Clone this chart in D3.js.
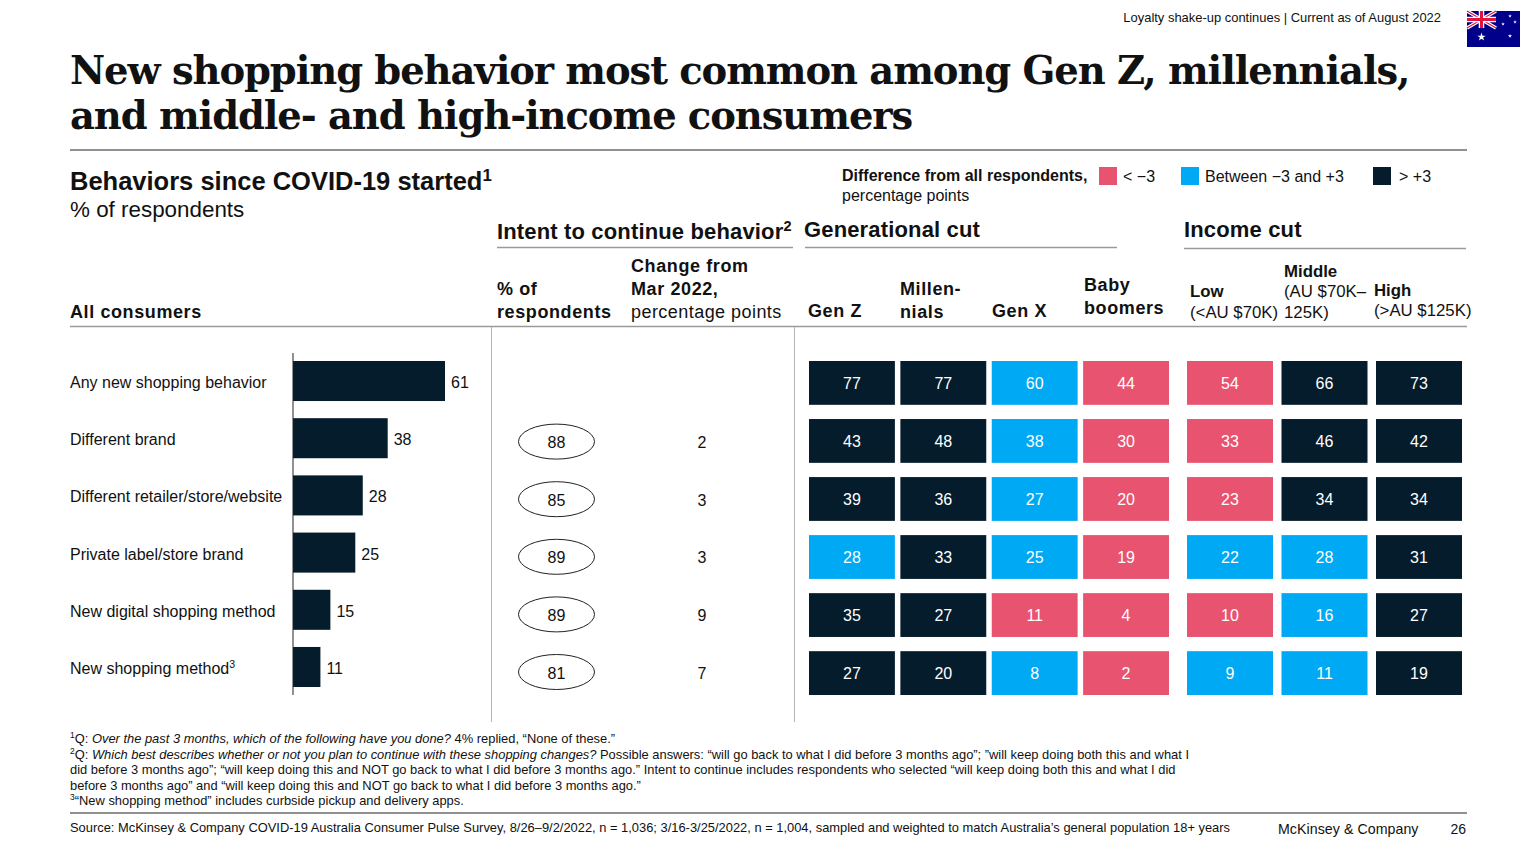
<!DOCTYPE html>
<html>
<head>
<meta charset="utf-8">
<script src="https://cdn.jsdelivr.net/npm/d3@7"></script>
<style>
  html, body { margin: 0; background: #fff; }
  svg { display: block; }
  text { font-family: "Liberation Sans", Arial, sans-serif; fill: #111; }
</style>
</head>
<body>
<div id="chart-area"></div>
<script>
// DATA
const behaviors = ['Any new shopping behavior', 'Different brand', 'Different retailer/store/website',
  'Private label/store brand', 'New digital shopping method', 'New shopping method^3^'];
const allConsumers = [61, 38, 28, 25, 15, 11];
const intentPct = [null, 88, 85, 89, 89, 81];
const intentChange = [null, 2, 3, 3, 9, 7];

const genCols = ['Gen Z', 'Millennials', 'Gen X', 'Baby boomers'];
const incomeCols = ['Low', 'Middle', 'High'];
const genZ = [77, 43, 39, 28, 35, 27];
const millennials = [77, 48, 36, 33, 27, 20];
const genX = [60, 38, 27, 25, 11, 8];
const boomers = [44, 30, 20, 19, 4, 2];
const incomeLow = [54, 33, 23, 22, 10, 9];
const incomeMid = [66, 46, 34, 28, 16, 11];
const incomeHigh = [73, 42, 34, 31, 27, 19];
const genValues = [genZ, millennials, genX, boomers];
const incomeValues = [incomeLow, incomeMid, incomeHigh];

// difference category per cell: l = below -3, m = between, h = above +3
const genBands = [['h','h','h','m','h','h'], ['h','h','h','h','h','h'], ['m','m','m','m','l','m'], ['l','l','l','l','l','l']];
const incomeBands = [['l','l','l','m','l','m'], ['h','h','h','m','m','m'], ['h','h','h','h','h','h']];
const legendLabels = ['< \u22123', 'Between \u22123 and +3', '> +3'];

const footnotes = [
  '^1^Q: *Over the past 3 months, which of the following have you done?* 4% replied, \u201CNone of these.\u201D',
  '^2^Q: *Which best describes whether or not you plan to continue with these shopping changes?* Possible answers: \u201Cwill go back to what I did before 3 months ago\u201D; \u201Dwill keep doing both this and what I',
  'did before 3 months ago\u201D; \u201Cwill keep doing this and NOT go back to what I did before 3 months ago.\u201D Intent to continue includes respondents who selected \u201Cwill keep doing both this and what I did',
  'before 3 months ago\u201D and \u201Cwill keep doing this and NOT go back to what I did before 3 months ago.\u201D',
  '^3^\u201CNew shopping method\u201D includes curbside pickup and delivery apps.'
];
const sourceLine = 'Source: McKinsey & Company COVID-19 Australia Consumer Pulse Survey, 8/26\u20139/2/2022, n = 1,036; 3/16-3/25/2022, n = 1,004, sampled and weighted to match Australia\u2019s general population 18+ years';

const navy = '#051c2c', cyan = '#00a9f4', pink = '#e8536f', rule = '#9a9a9a';
const bandColor = d3.scaleOrdinal().domain(['l', 'm', 'h']).range([pink, cyan, navy]);

const svg = d3.select('#chart-area').append('svg')
  .attr('width', 1536)
  .attr('height', 864);

// writes a string with ^sup^ and *italic* markup as tspans
function rich(x, y, str, size, attrs) {
  const t = svg.append('text').attr('x', x).attr('y', y).attr('font-size', size);
  Object.entries(attrs || {}).forEach(([k, v]) => t.attr(k, v));
  let lift = 0;
  str.split(/(\^[^^]*\^|\*[^*]*\*)/).filter(s => s).forEach(part => {
    const s = t.append('tspan');
    if (part[0] === '^') {
      s.text(part.slice(1, -1)).attr('font-size', size * 0.66).attr('dy', -size * 0.36);
      lift = size * 0.36;
    } else {
      if (lift) { s.attr('dy', lift); lift = 0; }
      if (part[0] === '*') s.text(part.slice(1, -1)).attr('font-style', 'italic');
      else s.text(part);
    }
  });
  return t;
}

function hline(x1, x2, y, color, w) {
  svg.append('line').attr('x1', x1).attr('x2', x2).attr('y1', y).attr('y2', y)
    .attr('stroke', color).attr('stroke-width', w);
}
function vline(x, y1, y2, color, w) {
  svg.append('line').attr('x1', x).attr('x2', x).attr('y1', y1).attr('y2', y2)
    .attr('stroke', color).attr('stroke-width', w);
}

// TOP STRIP & TITLE
rich(1441, 22, 'Loyalty shake-up continues | Current as of August 2022', 12.95, { 'text-anchor': 'end' });

const flag = svg.append('g').attr('transform', 'translate(1467,11)');
flag.append('rect').attr('width', 53).attr('height', 36).attr('fill', '#00008b');
flag.append('path').attr('d', 'M0,0L29,17M29,0L0,17').attr('stroke', '#fff').attr('stroke-width', 3.5);
flag.append('path').attr('d', 'M0,0L29,17M29,0L0,17').attr('stroke', '#e0143c').attr('stroke-width', 1.2);
flag.append('path').attr('d', 'M14.5,0V17M0,8.5H29').attr('stroke', '#fff').attr('stroke-width', 5.5);
flag.append('path').attr('d', 'M14.5,0V17M0,8.5H29').attr('stroke', '#e0143c').attr('stroke-width', 3);
flag.selectAll('path.star')
  .data([[14.5, 26, 22], [43, 5, 4], [36, 13, 4], [48, 11, 4], [43, 25, 5]])
  .join('path').attr('class', 'star')
  .attr('transform', d => `translate(${d[0]},${d[1]})`)
  .attr('d', d => d3.symbol(d3.symbolStar, d[2])())
  .attr('fill', '#fff');

const titleFont = { 'font-weight': 'bold', 'style': 'font-family:"DejaVu Serif",serif', 'letter-spacing': '-1.08' };
rich(70, 84, 'New shopping behavior most common among Gen Z, millennials,', 38.5, titleFont);
rich(70, 129, 'and middle- and high-income consumers', 38.5, titleFont);
hline(70, 1467, 150, '#222', 1);

// SUBTITLE & LEGEND
rich(70, 190, 'Behaviors since COVID-19 started^1^', 25.5, { 'font-weight': 'bold' });
rich(70, 217, '% of respondents', 22.4);

rich(842, 181, 'Difference from all respondents,', 16, { 'font-weight': 'bold' });
rich(842, 201, 'percentage points', 16);
const legendX = [1099, 1181, 1373];
const legendGap = [24, 24, 26];
['l', 'm', 'h'].forEach((k, i) => {
  svg.append('rect').attr('x', legendX[i]).attr('y', 167).attr('width', 18).attr('height', 18).attr('fill', bandColor(k));
  rich(legendX[i] + legendGap[i], 182, legendLabels[i], 16);
});

// COLUMN HEADERS
const headBold = { 'font-weight': 'bold', 'letter-spacing': '0.6' };
const sectionBold = { 'font-weight': 'bold', 'letter-spacing': '0.15' };
rich(497, 239, 'Intent to continue behavior^2^', 22, sectionBold);
rich(804, 237, 'Generational cut', 22, sectionBold);
rich(1184, 237, 'Income cut', 22, sectionBold);
hline(497, 793, 247.5, rule, 1.5);
hline(805, 1117, 247.5, rule, 1.5);
hline(1184, 1466, 248.5, rule, 1.5);

rich(70, 318, 'All consumers', 18, headBold);
rich(497, 295, '% of', 18, headBold);
rich(497, 318, 'respondents', 18, headBold);
rich(631, 272, 'Change from', 18, headBold);
rich(631, 295, 'Mar 2022,', 18, headBold);
rich(631, 318, 'percentage points', 18, { 'letter-spacing': '0.45' });

rich(808, 317, 'Gen Z', 18, headBold);
rich(900, 295, 'Millen-', 18, headBold);
rich(900, 318, 'nials', 18, headBold);
rich(992, 317, 'Gen X', 18, headBold);
rich(1084, 291, 'Baby', 18, headBold);
rich(1084, 314, 'boomers', 18, headBold);
rich(1190, 297, 'Low', 16.8, { 'font-weight': 'bold' });
rich(1190, 318, '(<AU $70K)', 16.8);
rich(1284, 277, 'Middle', 16.8, { 'font-weight': 'bold' });
rich(1284, 297, '(AU $70K\u2013', 16.8);
rich(1284, 318, '125K)', 16.8);
rich(1374, 296, 'High', 16.8, { 'font-weight': 'bold' });
rich(1374, 316, '(>AU $125K)', 16.8);

hline(70, 1467, 326.5, rule, 1.5);
vline(491.5, 327, 722, '#b5b5b5', 1);
vline(794.5, 327, 722, '#b5b5b5', 1);

// ALL CONSUMERS BARS
const barY = d3.scaleBand().domain(behaviors).range([361, 687]).paddingInner(0.3).paddingOuter(0);
const barX = d3.scaleLinear().domain([0, 61]).range([293, 445]);

svg.selectAll('rect.bar').data(allConsumers).join('rect')
  .attr('class', 'bar')
  .attr('x', barX(0))
  .attr('y', (d, i) => barY(behaviors[i]))
  .attr('width', d => barX(d) - barX(0))
  .attr('height', barY.bandwidth())
  .attr('fill', navy);

vline(293, 353, 695, '#222', 1);

behaviors.forEach((b, i) => {
  const cy = barY(b) + barY.bandwidth() / 2;
  rich(70, cy + 7, b, 16);
  rich(barX(allConsumers[i]) + 6, cy + 7, String(allConsumers[i]), 16);
});

// INTENT TO CONTINUE
const ovalY = d3.scalePoint().domain(behaviors).range([384, 672]);
const ovalX = 556.5, changeX = 702;
behaviors.forEach((b, i) => {
  if (intentPct[i] === null) return;
  const cy = ovalY(b);
  svg.append('ellipse').attr('cx', ovalX).attr('cy', cy).attr('rx', 38).attr('ry', 17.5)
    .attr('fill', '#fff').attr('stroke', '#222').attr('stroke-width', 1);
  rich(ovalX, cy + 6.5, String(intentPct[i]), 16, { 'text-anchor': 'middle' });
  rich(changeX, cy + 6.5, String(intentChange[i]), 16, { 'text-anchor': 'middle' });
});

// HEATMAP CELLS
const cellY = d3.scaleBand().domain(behaviors).range([361, 695]).paddingInner(0.245).paddingOuter(0);
const genX_ = d3.scaleBand().domain(genCols).range([809, 1169]).paddingInner(0.06);
const incomeX = d3.scaleBand().domain(incomeCols).range([1187, 1462]).paddingInner(0.09);

function drawCells(cols, values, bands, xScale, cls) {
  cols.forEach((c, ci) => {
    const g = svg.append('g').attr('class', cls);
    g.selectAll('rect').data(values[ci]).join('rect')
      .attr('x', xScale(c))
      .attr('y', (d, i) => cellY(behaviors[i]))
      .attr('width', xScale.bandwidth())
      .attr('height', cellY.bandwidth())
      .attr('fill', (d, i) => bandColor(bands[ci][i]));
    g.selectAll('text').data(values[ci]).join('text')
      .attr('x', xScale(c) + xScale.bandwidth() / 2)
      .attr('y', (d, i) => cellY(behaviors[i]) + cellY.bandwidth() / 2 + 6)
      .attr('text-anchor', 'middle')
      .attr('font-size', 16)
      .style('fill', '#fff')
      .text(d => d);
  });
}
drawCells(genCols, genValues, genBands, genX_, 'gen');
drawCells(incomeCols, incomeValues, incomeBands, incomeX, 'income');

// FOOTNOTES
const noteY = d3.scalePoint().domain(d3.range(footnotes.length)).range([743, 805]);
footnotes.forEach((f, i) => rich(70, noteY(i), f, 12.9));

hline(70, 1467, 813, '#222', 1);
rich(70, 832, sourceLine, 12.9);
rich(1278, 834, 'McKinsey & Company', 14.2, { 'letter-spacing': '0.05' });
rich(1466, 834, '26', 14, { 'text-anchor': 'end' });
</script>
</body>
</html>
